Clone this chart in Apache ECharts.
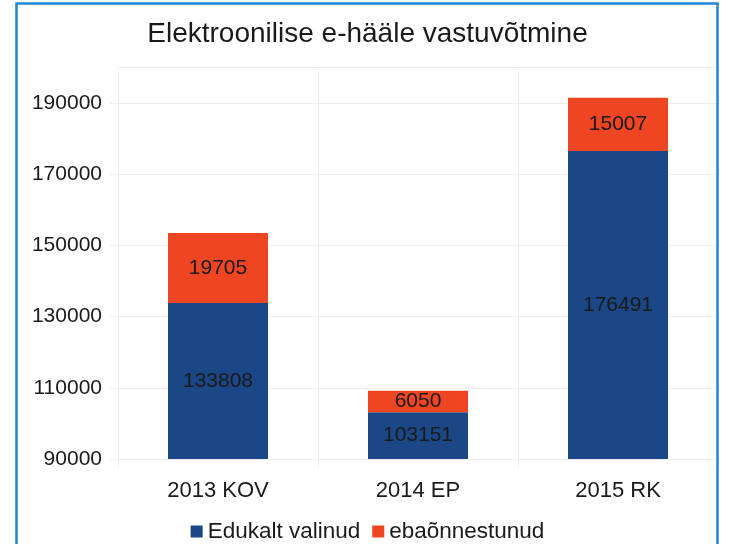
<!DOCTYPE html>
<html><head><meta charset="utf-8">
<script src="https://cdn.jsdelivr.net/npm/echarts@6/dist/echarts.min.js"></script>
<style>html,body{margin:0;padding:0;background:#fff}#c{width:735px;height:544px}</style>
</head><body><div id="c"></div>
<script>
const categories = ['2013 KOV', '2014 EP', '2015 RK'];
const successful = [133808, 103151, 176491];
const failed = [19705, 6050, 15007];
const seriesNames = ['Edukalt valinud', 'ebaõnnestunud'];
const titleText = 'Elektroonilise e-hääle vastuvõtmine';

const chart = echarts.init(document.getElementById('c'), null, {renderer: 'canvas'});
const font = 'Liberation Sans, Arial, sans-serif';
const labelStyle = {show: true, position: 'inside', color: '#1a1a1a', fontSize: 21, fontFamily: font};
chart.setOption({
  animation: false,
  backgroundColor: '#fff',
  title: {text: titleText, left: 'center', top: 15,
    textStyle: {fontFamily: font, fontSize: 28, fontWeight: 'normal', color: '#1a1a1a'}},
  legend: {data: seriesNames, top: 515, left: 'center', itemWidth: 12, itemHeight: 12, itemGap: 12,
    icon: 'rect', textStyle: {fontFamily: font, fontSize: 22.5, color: '#1a1a1a'}},
  grid: {left: 118, right: 17, top: 67.4, bottom: 85},
  xAxis: {type: 'category', data: categories,
    axisLine: {show: false},
    axisTick: {show: true, length: 10, lineStyle: {color: '#eeeeee'}},
    splitLine: {show: true, lineStyle: {color: '#f0f0f0'}},
    axisLabel: {fontFamily: font, fontSize: 22, color: '#1a1a1a', margin: 21}},
  yAxis: {type: 'value', min: 90000, max: 200000, interval: 20000,
    axisLine: {show: false},
    axisTick: {show: true, length: 8, lineStyle: {color: '#eeeeee'}},
    splitLine: {show: true, lineStyle: {color: '#eeeeee'}},
    axisLabel: {fontFamily: font, fontSize: 21, color: '#1a1a1a', margin: 16, showMaxLabel: false,
      formatter: v => String(v)}},
  series: [
    {name: seriesNames[0], type: 'bar', stack: 's', data: successful, barWidth: '50%',
      itemStyle: {color: '#1b4786'}, label: labelStyle},
    {name: seriesNames[1], type: 'bar', stack: 's', data: failed, barWidth: '50%',
      itemStyle: {color: '#ee4523'}, label: labelStyle}
  ],
  graphic: [{type: 'rect', shape: {x: 16.5, y: 3.5, width: 701, height: 600},
    style: {fill: 'none', stroke: '#1e86d4', lineWidth: 2.5}, z: 100}]
});
</script></body></html>
